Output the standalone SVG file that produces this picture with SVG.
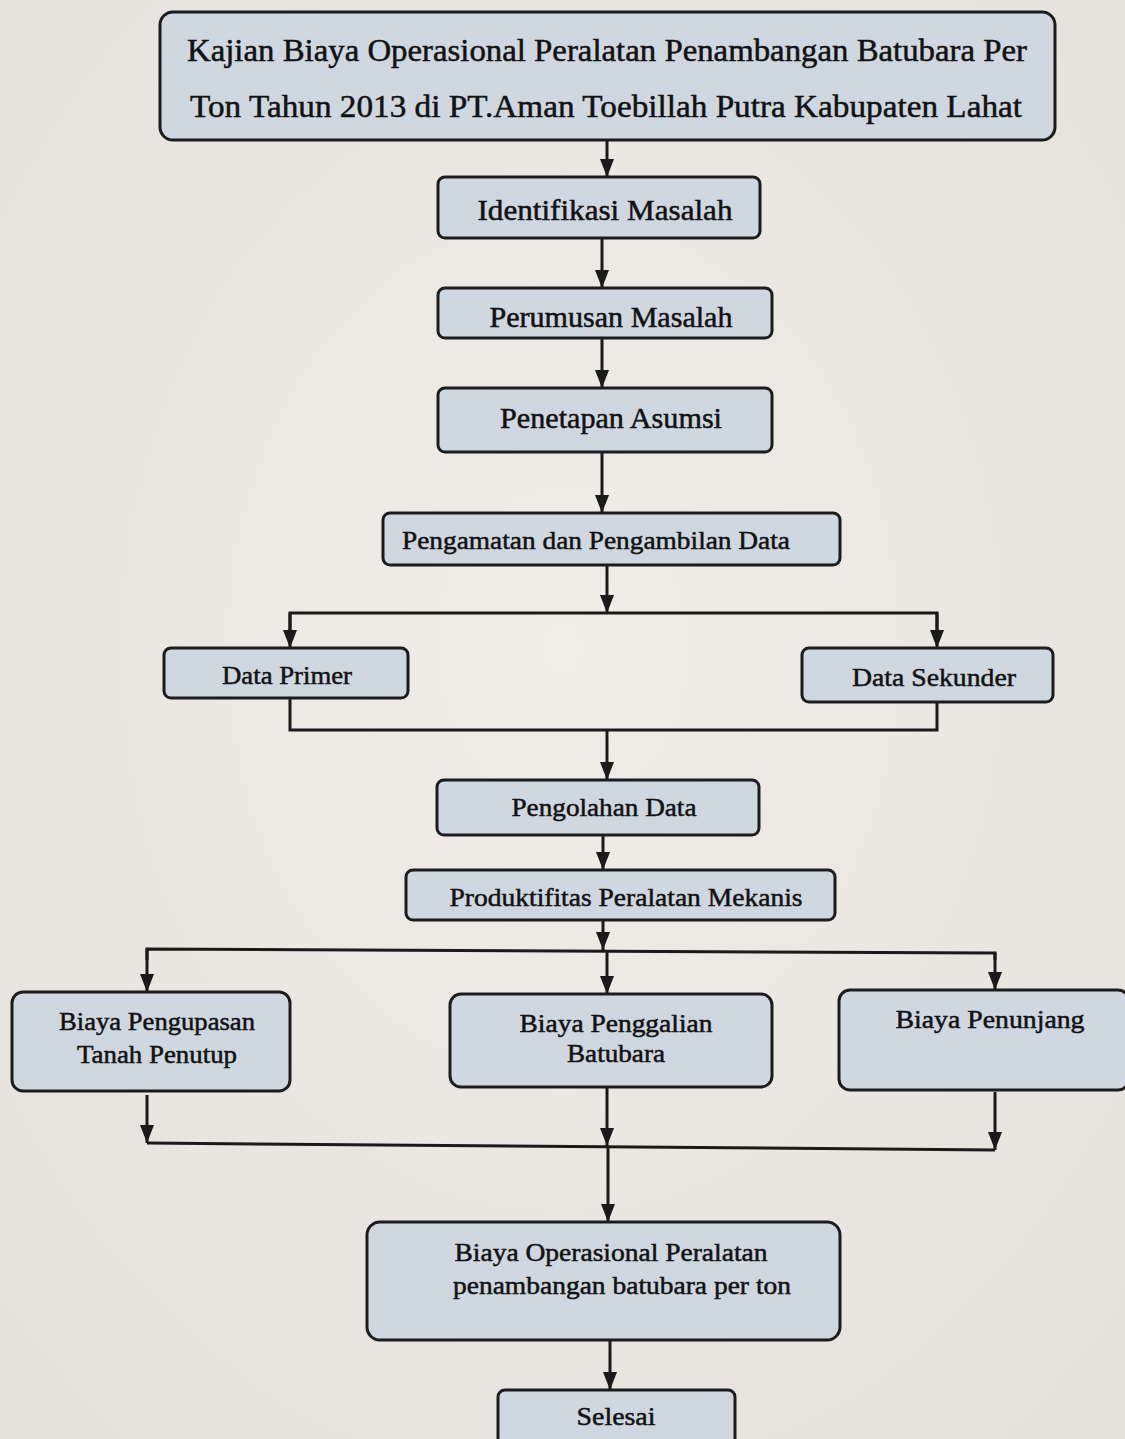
<svg xmlns="http://www.w3.org/2000/svg" width="1125" height="1439" viewBox="0 0 1125 1439">
<defs>
<radialGradient id="bg" cx="50%" cy="45%" r="75%">
<stop offset="0" stop-color="#f1eeea"/>
<stop offset="1" stop-color="#e4e0db"/>
</radialGradient>
<marker id="arr" markerUnits="userSpaceOnUse" markerWidth="18" markerHeight="14" viewBox="0 0 18 14" refX="18" refY="7" orient="auto">
<path d="M0,0 L18,7 L0,14 Z" fill="#1a1a1a"/>
</marker>
</defs>
<style>
.box{fill:#cfd8e1;stroke:#1c1c1c;stroke-width:3}
.t{font-family:"Liberation Serif","Times New Roman",serif;fill:#111;stroke:#111;stroke-width:0.5;text-anchor:middle}
.c{stroke:#1a1a1a;stroke-width:3;fill:none}
.ca{stroke:#1a1a1a;stroke-width:3;fill:none;marker-end:url(#arr)}
</style>
<rect width="1125" height="1439" fill="url(#bg)"/>

<g id="connectors">
<line class="ca" x1="607" y1="141" x2="607" y2="177"/>
<line class="ca" x1="602" y1="238" x2="602" y2="288"/>
<line class="ca" x1="602" y1="338" x2="602" y2="388"/>
<line class="ca" x1="602" y1="452" x2="602" y2="513"/>
<line class="ca" x1="607" y1="565" x2="607" y2="613"/>
<polyline class="c" points="290,632 290,613 937,613 937,632"/>
<line class="ca" x1="290" y1="613" x2="290" y2="648"/>
<line class="ca" x1="937" y1="613" x2="937" y2="648"/>
<polyline class="c" points="290,698 290,730 937,730 937,702"/>
<line class="ca" x1="607" y1="730" x2="607" y2="780"/>
<line class="ca" x1="603" y1="835" x2="603" y2="870"/>
<line class="ca" x1="603" y1="920" x2="603" y2="950"/>
<polyline class="c" points="147,960 147,949 995,953 995,960"/>
<line class="ca" x1="147" y1="949" x2="147" y2="992"/>
<line class="ca" x1="607" y1="951" x2="607" y2="994"/>
<line class="ca" x1="995" y1="953" x2="995" y2="990"/>
<line class="ca" x1="147" y1="1095" x2="147" y2="1143"/>
<line class="ca" x1="607" y1="1087" x2="607" y2="1146"/>
<line class="ca" x1="995" y1="1092" x2="995" y2="1150"/>
<line class="c" x1="147" y1="1143" x2="995" y2="1150"/>
<line class="ca" x1="608" y1="1146" x2="608" y2="1222"/>
<line class="ca" x1="610" y1="1340" x2="610" y2="1390"/>
</g>

<g id="title">
<rect class="box" x="160" y="12" width="895" height="128" rx="13"/>
<text class="t" x="607" y="61" font-size="32" textLength="840" lengthAdjust="spacingAndGlyphs">Kajian Biaya Operasional Peralatan Penambangan Batubara Per</text>
<text class="t" x="606" y="117" font-size="32" textLength="832" lengthAdjust="spacingAndGlyphs">Ton Tahun 2013 di PT.Aman Toebillah Putra Kabupaten Lahat</text>
</g>

<g id="identifikasi">
<rect class="box" x="438" y="177" width="322" height="61" rx="7"/>
<text class="t" x="605" y="220" font-size="30" textLength="255" lengthAdjust="spacingAndGlyphs">Identifikasi Masalah</text>
</g>

<g id="perumusan">
<rect class="box" x="438" y="288" width="334" height="50" rx="7"/>
<text class="t" x="611" y="327" font-size="29" textLength="243" lengthAdjust="spacingAndGlyphs">Perumusan Masalah</text>
</g>

<g id="penetapan">
<rect class="box" x="438" y="388" width="334" height="64" rx="7"/>
<text class="t" x="611" y="428" font-size="30" textLength="222" lengthAdjust="spacingAndGlyphs">Penetapan Asumsi</text>
</g>

<g id="pengamatan">
<rect class="box" x="383" y="513" width="457" height="52" rx="7"/>
<text class="t" x="596" y="549" font-size="26" textLength="388" lengthAdjust="spacingAndGlyphs">Pengamatan dan Pengambilan Data</text>
</g>

<g id="primer">
<rect class="box" x="164" y="648" width="244" height="50" rx="7"/>
<text class="t" x="287" y="684" font-size="26" textLength="130" lengthAdjust="spacingAndGlyphs">Data Primer</text>
</g>

<g id="sekunder">
<rect class="box" x="802" y="648" width="251" height="54" rx="7"/>
<text class="t" x="934" y="686" font-size="26" textLength="164" lengthAdjust="spacingAndGlyphs">Data Sekunder</text>
</g>

<g id="pengolahan">
<rect class="box" x="437" y="780" width="322" height="55" rx="7"/>
<text class="t" x="604" y="816" font-size="26" textLength="185" lengthAdjust="spacingAndGlyphs">Pengolahan Data</text>
</g>

<g id="produktifitas">
<rect class="box" x="406" y="870" width="429" height="50" rx="7"/>
<text class="t" x="626" y="906" font-size="26" textLength="353" lengthAdjust="spacingAndGlyphs">Produktifitas Peralatan Mekanis</text>
</g>

<g id="pengupasan">
<rect class="box" x="12" y="992" width="278" height="99" rx="11"/>
<text class="t" x="157" y="1030" font-size="25" textLength="196" lengthAdjust="spacingAndGlyphs">Biaya Pengupasan</text>
<text class="t" x="157" y="1063" font-size="25" textLength="160" lengthAdjust="spacingAndGlyphs">Tanah Penutup</text>
</g>

<g id="penggalian">
<rect class="box" x="450" y="994" width="322" height="93" rx="11"/>
<text class="t" x="616" y="1032" font-size="25" textLength="193" lengthAdjust="spacingAndGlyphs">Biaya Penggalian</text>
<text class="t" x="616" y="1062" font-size="25" textLength="98" lengthAdjust="spacingAndGlyphs">Batubara</text>
</g>

<g id="penunjang">
<rect class="box" x="839" y="990" width="290" height="100" rx="11"/>
<text class="t" x="990" y="1028" font-size="25" textLength="189" lengthAdjust="spacingAndGlyphs">Biaya Penunjang</text>
</g>

<g id="biaya-operasional">
<rect class="box" x="367" y="1222" width="473" height="118" rx="13"/>
<text class="t" x="611" y="1261" font-size="26" textLength="313" lengthAdjust="spacingAndGlyphs">Biaya Operasional Peralatan</text>
<text class="t" x="622" y="1294" font-size="26" textLength="338" lengthAdjust="spacingAndGlyphs">penambangan batubara per ton</text>
</g>

<g id="selesai">
<rect class="box" x="498" y="1390" width="237" height="60" rx="7"/>
<text class="t" x="616" y="1425" font-size="26" textLength="79" lengthAdjust="spacingAndGlyphs">Selesai</text>
</g>
</svg>
